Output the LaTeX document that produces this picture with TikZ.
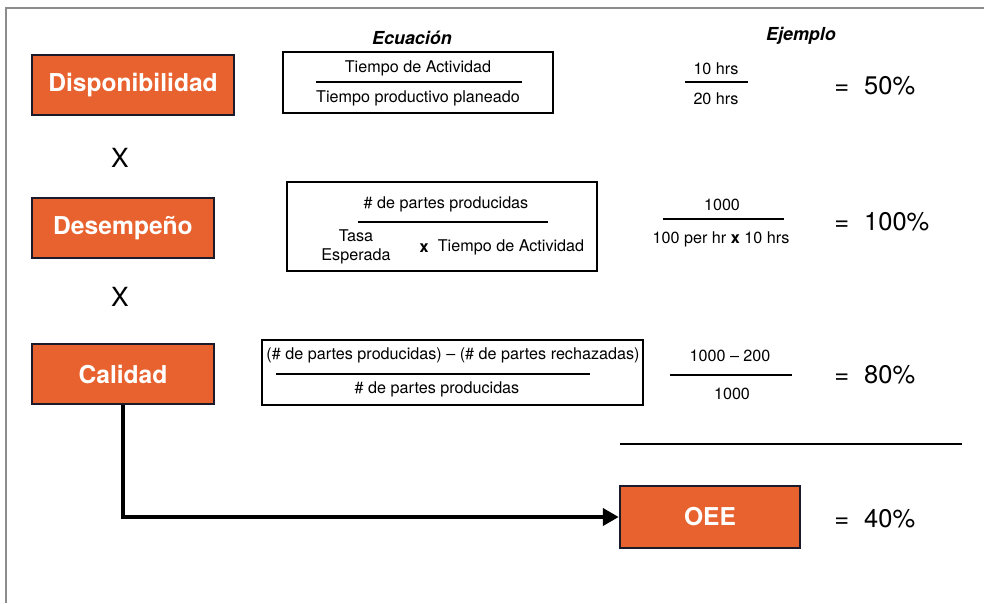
\documentclass[tikz,border=0pt]{standalone}
\usepackage{fontspec}
\setmainfont{TeX Gyre Heros}
\usetikzlibrary{arrows.meta}
\definecolor{naranja}{HTML}{E8622F}
\definecolor{borde}{HTML}{1A1A2A}
\definecolor{marco}{HTML}{8C8C8C}
\tikzset{
    caja/.style={draw=borde, line width=1.4pt, fill=naranja, text=white,
      font=\fontsize{14}{16}\selectfont\bfseries, inner sep=0pt},
    ecuacion/.style={draw=black, line width=1.2pt, fill=white, inner sep=0pt},
    txt/.style={font=\fontsize{9.2}{10.5}\selectfont, inner sep=0pt},
    titulo/.style={font=\fontsize{10.2}{12}\selectfont\bfseries\itshape},
    resultado/.style={font=\fontsize{14.5}{17}\selectfont, anchor=west, inner sep=0pt},
    por/.style={font=\fontsize{15}{17}\selectfont},
    barra/.style={line width=1pt},
    flecha/.style={line width=2.8pt, -{Triangle[length=0.32cm,width=0.34cm]}},
}

\begin{document}
\begin{tikzpicture}[x=0.02cm, y=-0.02cm]
    \useasboundingbox (0,0) rectangle (984,603);
    % marco
    \draw[marco, line width=1.2pt] (984,8) -- (6,8) -- (6,603);

    % titulos
    \node[titulo] (tecu) at (412,38) {Ecuación};
    \node[titulo] (tej) at (801,36) {Ejemplo};

    % factores
    \node[caja, minimum width=4.04cm, minimum height=1.2cm] (disp) at (133,85) {Disponibilidad};
    \node[por] (x1) at (120,158) {X};
    \node[caja, minimum width=3.64cm, minimum height=1.2cm] (desem) at (123,228) {Desempeño};
    \node[por] (x2) at (120,297) {X};
    \node[caja, minimum width=3.64cm, minimum height=1.2cm] (cal) at (123,374) {Calidad};
    \node[caja, minimum width=3.6cm, minimum height=1.24cm] (oee) at (710,517) {OEE};

    % ecuaciones
    \node[ecuacion, minimum width=5.4cm, minimum height=1.22cm] (eq1) at (418,82.5) {};
    \node[txt] (eq1n) at (418,68) {Tiempo de Actividad};
    \draw[barra] (316,82) -- (522,82);
    \node[txt] (eq1d) at (418,98) {Tiempo productivo planeado};

    \node[ecuacion, minimum width=6.2cm, minimum height=1.78cm] (eq2) at (442,226.5) {};
    \node[txt] (eq2n) at (446,204) {\# de partes producidas};
    \draw[barra] (358,222) -- (548,222);
    \node[txt, align=center] (tasa) at (356,247) {Tasa\\Esperada};
    \node[txt] (eq2x) at (424,248) {\textbf{x}};
    \node[txt] (eq2d) at (511,247) {Tiempo de Actividad};

    \node[ecuacion, minimum width=7.62cm, minimum height=1.3cm] (eq3) at (452.5,372.5) {};
    \node[txt] (eq3n) at (453,355) {(\# de partes producidas) -- (\# de partes rechazadas)};
    \draw[barra] (276,374) -- (590,374);
    \node[txt] (eq3d) at (437,389) {\# de partes producidas};

    % ejemplos
    \node[txt] (ej1n) at (716,69) {10 hrs};
    \draw[barra] (685,82) -- (748,82);
    \node[txt] (ej1d) at (716,99) {20 hrs};

    \node[txt] (ej2n) at (722,205) {1000};
    \draw[barra] (663,219) -- (784,219);
    \node[txt] (ej2d) at (721,239) {100 per hr \textbf{x} 10 hrs};

    \node[txt] (ej3n) at (730,356) {1000 -- 200};
    \draw[barra] (670,375) -- (792,375);
    \node[txt] (ej3d) at (732,394) {1000};

    % resultados
    \node[resultado] (r1) at (834,86) {=\hspace{0.3cm}50\%};
    \node[resultado] (r2) at (834,222) {=\hspace{0.3cm}100\%};
    \node[resultado] (r3) at (834,375) {=\hspace{0.3cm}80\%};
    \node[resultado] (r4) at (834,519) {=\hspace{0.3cm}40\%};

    \coordinate (sepa) at (620,444);
    \coordinate (sepb) at (962,444);
    \draw[line width=1.6pt] (sepa) -- (sepb);

    \draw[flecha] (cal.south) |- (oee.west);
\end{tikzpicture}
\end{document}
